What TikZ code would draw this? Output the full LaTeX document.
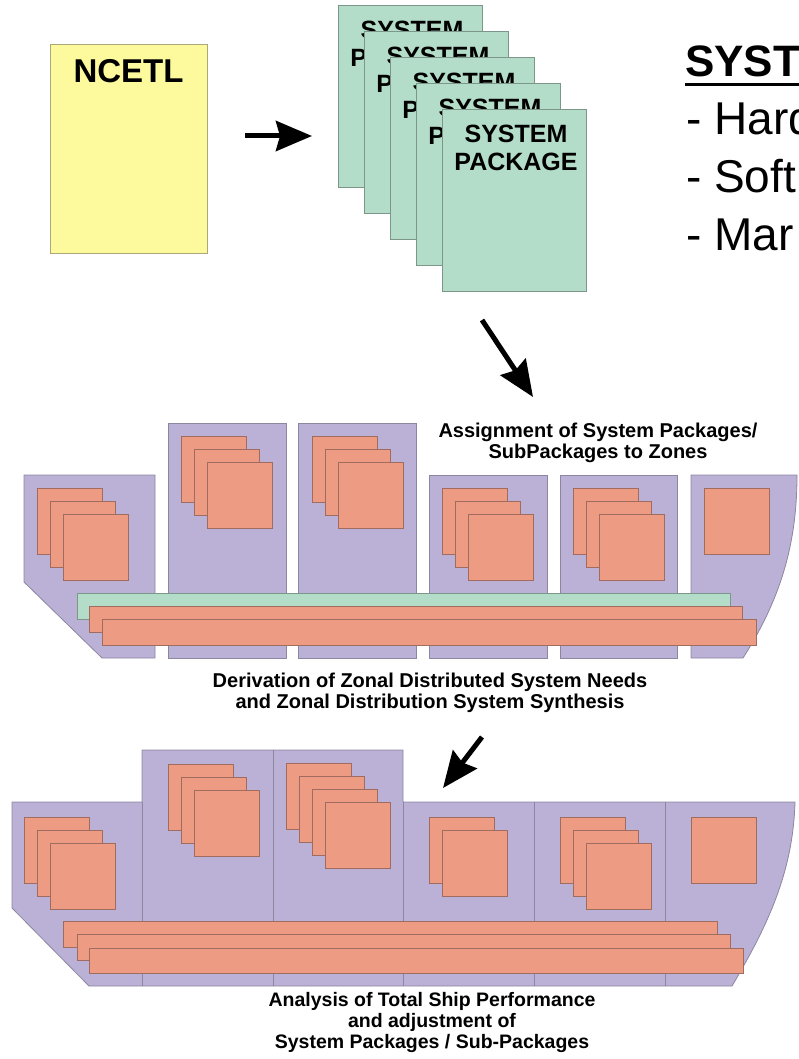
\documentclass[tikz,border=0pt]{standalone}
\usepackage{fontspec}
\setmainfont{Liberation Sans}
\usetikzlibrary{arrows.meta}

\definecolor{zonefill}{RGB}{187,176,214}
\definecolor{zoneline}{RGB}{140,134,160}
\definecolor{pkgfill}{RGB}{237,155,130}
\definecolor{pkgline}{RGB}{160,108,95}
\definecolor{pagefill}{RGB}{179,221,200}
\definecolor{pageline}{RGB}{125,150,138}
\definecolor{notefill}{RGB}{253,250,158}
\definecolor{noteline}{RGB}{170,168,120}

\tikzset{
  zone/.style={fill=zonefill,draw=zoneline,line width=0.8pt},
  pkg/.style={fill=pkgfill,draw=pkgline,line width=0.8pt},
  syspage/.style={fill=pagefill,draw=pageline,line width=0.8pt},
  note/.style={fill=notefill,draw=noteline,line width=0.8pt},
  bigarrow/.style={line width=5pt,-{Stealth[length=36pt,width=30pt,inset=4pt]}},
  caption/.style={font=\bfseries\fontsize{20}{21}\selectfont,align=center,inner sep=0pt,anchor=north},
  pagetext/.style={font=\bfseries\fontsize{25}{28}\selectfont,align=center,inner sep=0pt,anchor=north},
  bigtext/.style={font=\fontsize{46}{46}\selectfont,inner sep=0pt,anchor=base west},
}

\begin{document}
\begin{tikzpicture}[x=1pt,y=-1pt]
      \useasboundingbox (0,0) rectangle (798,1059);
      % NCETL sheet and system packages
      \draw[note] (50,44) rectangle (207,253);
      \node[font=\bfseries\fontsize{33}{33}\selectfont,inner sep=0pt,anchor=north] (ncetl) at (128.5,59) {NCETL};
      \foreach \i in {0,...,4} {
        \draw[syspage] (338+26*\i,5+26*\i) rectangle +(144,182);
        \node[pagetext] (ptxt\i) at (412+26*\i,21+26*\i) {SYSTEM\\PACKAGE};
      }
      \coordinate (a1s) at (245,136);
      \coordinate (a1e) at (312,136);
      \draw[bigarrow] (a1s) -- (a1e);
      % list on the right
      \node[bigtext,font=\bfseries\fontsize{44}{44}\selectfont] (head) at (685,77) {SYST};
      \draw[line width=3.5pt] ([yshift=-7.5pt]head.base west) -- +(130,0);
      \node[bigtext] (hw) at (686,135) {- Hard};
      \node[bigtext] (sw) at (686,193) {- Soft};
      \node[bigtext] (mn) at (686,251) {- Mar};
      \coordinate (a2s) at (482,320);
      \coordinate (a2e) at (533,397);
      \draw[bigarrow] (a2s) -- (a2e);

      % first ship: packages assigned to zones
      \node[caption] (assign) at (598,423) {Assignment of System Packages/\\SubPackages to Zones};
      \draw[zone] (24,475) -- (155,475) -- (155,658) -- (102,658) -- (24,582) -- cycle;
      \draw[zone] (168,423) rectangle (286,658);
      \draw[zone] (298,423) rectangle (416,658);
      \draw[zone] (429,475) rectangle (547,658);
      \draw[zone] (560,475) rectangle (677,658);
      \draw[zone] (691,475) -- (797,475) .. controls (797,545) and (780,600) .. (743,658) -- (691,658) -- cycle;
      \foreach \px/\py/\n in {37/488/3,181/436/3,312/436/3,442/488/3,573/488/3,704/488/1} {
        \foreach \i in {1,...,\n} {
          \draw[pkg] (\px+13*\i-13,\py+13*\i-13) rectangle +(65,66);
        }
      }
      \draw[syspage] (77,593) rectangle (730,619);
      \draw[pkg] (89,606) rectangle (742,632);
      \draw[pkg] (102,619) rectangle (756,645);
      \node[caption] (derive) at (430,673) {Derivation of Zonal Distributed System Needs\\and Zonal Distribution System Synthesis};
      \coordinate (a3s) at (482,737);
      \coordinate (a3e) at (443,788);
      \draw[bigarrow] (a3s) -- (a3e);

      % second ship: total ship
      \draw[zone] (12,802) -- (142,802) -- (142,750) -- (403,750) -- (403,802) -- (795,802)
        .. controls (793,875) and (765,930) .. (732,986) -- (89,986) -- (12,908) -- cycle;
      \foreach \x/\t in {142/802,273/750,403/802,534/802,665/802} {
        \draw[draw=zoneline,line width=0.8pt] (\x,\t) -- (\x,986);
      }
      \foreach \px/\py/\n in {24/817/3,168/764/3,286/763/4,429/817/2,560/817/3,691/817/1} {
        \foreach \i in {1,...,\n} {
          \draw[pkg] (\px+13*\i-13,\py+13*\i-13) rectangle +(65,66);
        }
      }
      \draw[pkg] (63,921) rectangle (717,947);
      \draw[pkg] (77,934) rectangle (730,960);
      \draw[pkg] (89,948) rectangle (743,973);
      \node[caption,font=\bfseries\fontsize{19.5}{21}\selectfont] (analysis) at (432,992) {Analysis of Total Ship Performance\\and adjustment of\\System Packages / Sub-Packages};
\end{tikzpicture}
\end{document}
